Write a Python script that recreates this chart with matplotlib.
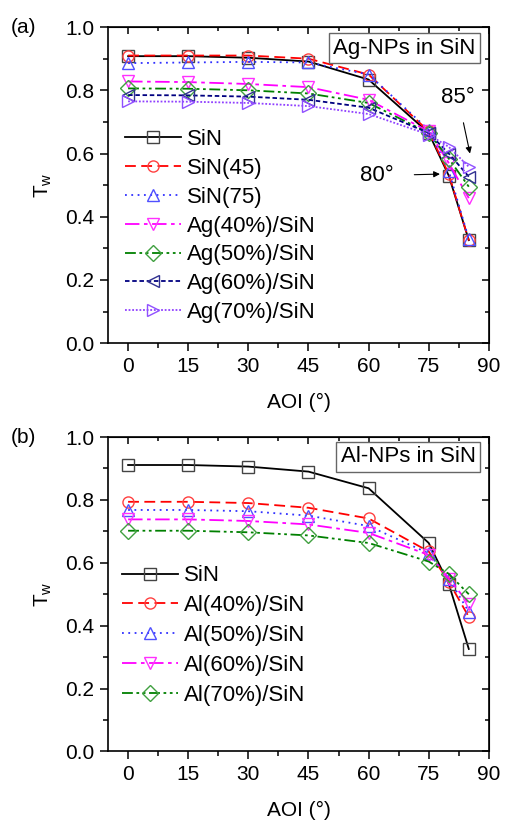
import numpy as np
import matplotlib
matplotlib.use("Agg")
import matplotlib.pyplot as plt
from matplotlib.ticker import MultipleLocator

plt.rcParams['font.family'] = ['Liberation Sans', 'DejaVu Sans']
plt.rcParams['font.size'] = 15

## angle of incidence
aoi = [0, 15, 30, 45, 60, 75, 80, 85]

## panel (a), Ag nanoparticles
sin_a = [0.908, 0.908, 0.903, 0.891, 0.834, 0.665, 0.530, 0.326]
sin45 = [0.910, 0.910, 0.910, 0.900, 0.850, 0.670, 0.535, 0.325]
sin75 = [0.886, 0.888, 0.890, 0.888, 0.850, 0.675, 0.545, 0.330]
ag40 = [0.828, 0.826, 0.820, 0.810, 0.770, 0.670, 0.570, 0.459]
ag50 = [0.806, 0.805, 0.800, 0.790, 0.760, 0.665, 0.584, 0.495]
ag60 = [0.785, 0.784, 0.780, 0.770, 0.745, 0.665, 0.600, 0.527]
ag70 = [0.765, 0.764, 0.760, 0.750, 0.725, 0.660, 0.621, 0.558]

## panel (b), Al nanoparticles
sin_b = [0.911, 0.911, 0.906, 0.890, 0.837, 0.663, 0.533, 0.326]
al40 = [0.794, 0.794, 0.790, 0.775, 0.741, 0.636, 0.540, 0.428]
al50 = [0.768, 0.768, 0.764, 0.750, 0.717, 0.630, 0.550, 0.444]
al60 = [0.738, 0.738, 0.733, 0.722, 0.695, 0.625, 0.550, 0.470]
al70 = [0.702, 0.702, 0.697, 0.687, 0.663, 0.604, 0.565, 0.500]

sty = {
    'sin':  dict(color='black', ls='-', marker='s', mec='#444444'),
    'red':  dict(color='red', ls=(0, (6, 3)), marker='o', mec='#ff4040'),
    'blue': dict(color='#3030ff', ls=(0, (1, 2.5)), marker='^', mec='#5050ff'),
    'mag':  dict(color='#ff00ff', ls=(0, (8, 2.5, 2, 2.5)), marker='v', mec='#ff30ff'),
    'grn':  dict(color='#008000', ls=(0, (6, 2, 1.5, 2, 1.5, 2)), marker='D', mec='#40a040'),
    'navy': dict(color='#000080', ls=(0, (2.5, 1.5)), marker='<', mec='#303090'),
    'vio':  dict(color='#9040ff', ls=(0, (1, 1)), marker='>', mec='#9050ff'),
}


def line(ax, y, label, key):
    s = dict(sty[key])
    ax.plot(aoi, y, label=label, lw=1.3, ms=8, mfc='none', mew=1.0, **s)


def style_axes(ax):
    ax.set_xlim(-5, 90)
    ax.set_ylim(0, 1.0)
    ax.xaxis.set_major_locator(MultipleLocator(15))
    ax.xaxis.set_minor_locator(MultipleLocator(7.5))
    ax.yaxis.set_major_locator(MultipleLocator(0.2))
    ax.yaxis.set_minor_locator(MultipleLocator(0.1))
    ax.yaxis.set_major_formatter(plt.FormatStrFormatter('%.1f'))
    ax.tick_params(which='major', direction='out', length=6, width=1.1,
                   labelsize=15, pad=4)
    ax.tick_params(which='minor', direction='out', length=3.5, width=1.1)
    for sp in ax.spines.values():
        sp.set_linewidth(1.2)
    top = ax.secondary_xaxis('top')
    top.xaxis.set_major_locator(MultipleLocator(15))
    top.xaxis.set_minor_locator(MultipleLocator(7.5))
    top.tick_params(which='major', direction='in', length=5, width=1.1, labeltop=False)
    top.tick_params(which='minor', direction='in', length=3, width=1.1)
    right = ax.secondary_yaxis('right')
    right.yaxis.set_major_locator(MultipleLocator(0.2))
    right.yaxis.set_minor_locator(MultipleLocator(0.1))
    right.tick_params(which='major', direction='in', length=5, width=1.1, labelright=False)
    right.tick_params(which='minor', direction='in', length=3, width=1.1)
    ax.set_xlabel('AOI (°)', fontsize=15, labelpad=12)
    ax.set_ylabel('T$_\\mathregular{w}$', fontsize=15, labelpad=8)


fig = plt.figure(figsize=(5.05, 8.21), dpi=100)
ax1 = fig.add_axes([0.214, 0.582, 0.754, 0.385])
ax2 = fig.add_axes([0.214, 0.0847, 0.754, 0.383])

leg_kw = dict(loc='upper left', frameon=False, fontsize=16, handlelength=2.5,
              handletextpad=0.3, borderaxespad=0, borderpad=0)

line(ax1, sin_a, 'SiN', 'sin')
line(ax1, sin45, 'SiN(45)', 'red')
line(ax1, sin75, 'SiN(75)', 'blue')
line(ax1, ag40, 'Ag(40%)/SiN', 'mag')
line(ax1, ag50, 'Ag(50%)/SiN', 'grn')
line(ax1, ag60, 'Ag(60%)/SiN', 'navy')
line(ax1, ag70, 'Ag(70%)/SiN', 'vio')
style_axes(ax1)
ax1.legend(bbox_to_anchor=(0.045, 0.677), labelspacing=0.35, **leg_kw)
ax1.text(0.965, 0.967, 'Ag-NPs in SiN', transform=ax1.transAxes, ha='right', va='top',
         fontsize=16, bbox=dict(boxstyle='square,pad=0.2', fc='white', ec='#666666', lw=1))
ax1.annotate('85°', xy=(85.3, 0.60), xytext=(82.3, 0.778), ha='center', va='center',
             fontsize=16, arrowprops=dict(arrowstyle='-|>', color='black', lw=0.8,
                                          shrinkA=9, shrinkB=0, mutation_scale=9))
ax1.annotate('80°', xy=(77.8, 0.535), xytext=(62, 0.53), ha='center', va='center',
             fontsize=16, arrowprops=dict(arrowstyle='-|>', color='black', lw=0.8,
                                          shrinkA=13, shrinkB=0, mutation_scale=9))

line(ax2, sin_b, 'SiN', 'sin')
line(ax2, al40, 'Al(40%)/SiN', 'red')
line(ax2, al50, 'Al(50%)/SiN', 'blue')
line(ax2, al60, 'Al(60%)/SiN', 'mag')
line(ax2, al70, 'Al(70%)/SiN', 'grn')
style_axes(ax2)
ax2.legend(bbox_to_anchor=(0.037, 0.592), labelspacing=0.4, **leg_kw)
ax2.text(0.965, 0.970, 'Al-NPs in SiN', transform=ax2.transAxes, ha='right', va='top',
         fontsize=16, bbox=dict(boxstyle='square,pad=0.2', fc='white', ec='#666666', lw=1))

fig.text(0.022, 0.967, '(a)', fontsize=15, va='center')
fig.text(0.022, 0.467, '(b)', fontsize=15, va='center')

fig.savefig('out.png', dpi=100)
